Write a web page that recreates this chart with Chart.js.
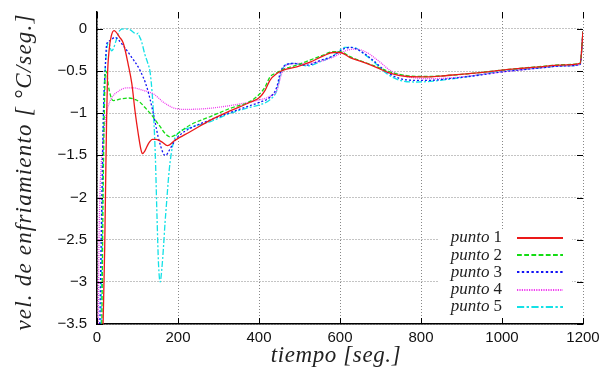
<!DOCTYPE html>
<html>
<head>
<meta charset="utf-8">
<script src="https://cdn.jsdelivr.net/npm/chart.js@4"></script>
<style>
  html, body { margin: 0; padding: 0; background: #fff; }
  #wrap { width: 612px; height: 373px; }
</style>
</head>
<body>
<div id="wrap"><canvas id="grafico" width="612" height="373"></canvas></div>
<script>
// tiempos (seg.) y velocidades de enfriamiento
const t1 = [15, 19, 22, 24, 26, 30, 35, 42, 56, 65, 77, 86, 94, 102, 108, 112, 118, 127, 137, 146, 160, 174, 193, 230, 279, 330, 378, 402, 415, 427, 444, 460, 493, 526, 559, 583, 600, 625, 657, 691, 723, 765, 814, 847, 896, 946, 999, 1044, 1094, 1143, 1193, 1200];
const v1 = [-3.5, -2.6, -1.6, -1.0, -0.55, -0.25, -0.09, -0.02, -0.1, -0.17, -0.42, -0.65, -0.98, -1.25, -1.42, -1.48, -1.45, -1.36, -1.31, -1.31, -1.34, -1.385, -1.32, -1.22, -1.085, -0.97, -0.87, -0.81, -0.73, -0.61, -0.53, -0.49, -0.45, -0.395, -0.32, -0.28, -0.28, -0.34, -0.395, -0.46, -0.525, -0.565, -0.57, -0.56, -0.54, -0.52, -0.49, -0.47, -0.45, -0.43, -0.41, -0.03];

const t2 = [12, 15, 18, 21, 24, 28, 34, 40, 60, 78, 95, 106, 118, 131, 144, 156, 168, 180, 193, 230, 280, 330, 378, 402, 415, 427, 444, 460, 493, 526, 559, 583, 600, 625, 657, 691, 723, 765, 814, 860, 900, 950, 1000, 1050, 1100, 1150, 1193, 1200];
const v2 = [-3.5, -2.0, -1.0, -0.5, -0.52, -0.67, -0.8, -0.85, -0.83, -0.82, -0.84, -0.87, -0.93, -1.0, -1.08, -1.16, -1.24, -1.28, -1.26, -1.14, -1.04, -0.94, -0.86, -0.77, -0.69, -0.57, -0.52, -0.48, -0.43, -0.37, -0.31, -0.27, -0.27, -0.33, -0.39, -0.45, -0.51, -0.555, -0.565, -0.555, -0.54, -0.515, -0.49, -0.465, -0.445, -0.425, -0.405, -0.03];

const t3 = [7, 12, 16, 20, 24, 32, 44, 55, 65, 86, 106, 123, 139, 151, 164, 170, 176, 188, 200, 230, 280, 330, 378, 402, 427, 444, 452, 460, 485, 518, 551, 583, 608, 625, 649, 682, 715, 748, 789, 823, 870, 900, 950, 1000, 1050, 1100, 1150, 1193, 1200];
const v3 = [-3.5, -2.0, -1.0, -0.5, -0.18, -0.14, -0.1, -0.14, -0.2, -0.34, -0.49, -0.69, -1.0, -1.28, -1.48, -1.5, -1.46, -1.36, -1.28, -1.18, -1.08, -0.99, -0.91, -0.87, -0.81, -0.69, -0.53, -0.45, -0.41, -0.43, -0.375, -0.32, -0.24, -0.22, -0.26, -0.375, -0.51, -0.59, -0.61, -0.61, -0.59, -0.575, -0.545, -0.51, -0.485, -0.46, -0.44, -0.42, -0.03];

const t4 = [3, 5, 8, 14, 20, 27, 36, 50, 73, 90, 114, 139, 164, 188, 213, 271, 328, 394, 427, 444, 456, 468, 501, 542, 583, 616, 641, 666, 699, 723, 765, 814, 860, 900, 950, 1000, 1050, 1100, 1150, 1193, 1200];
const v4 = [-3.5, -2.5, -1.85, -1.4, -1.1, -0.93, -0.82, -0.75, -0.7, -0.7, -0.73, -0.77, -0.87, -0.935, -0.955, -0.945, -0.91, -0.85, -0.8, -0.73, -0.53, -0.43, -0.41, -0.395, -0.335, -0.255, -0.24, -0.28, -0.395, -0.49, -0.565, -0.59, -0.585, -0.57, -0.54, -0.51, -0.485, -0.46, -0.44, -0.42, -0.03];

const t5 = [10, 13, 16, 20, 24, 28, 36, 40, 47, 56, 65, 81, 98, 102, 104, 110, 118, 125, 131, 136, 140, 144, 148, 152, 156, 160, 164, 168, 172, 176, 180, 188, 200, 230, 280, 330, 378, 402, 427, 444, 452, 464, 485, 518, 551, 583, 612, 633, 660, 690, 715, 748, 789, 830, 896, 950, 995, 1050, 1100, 1150, 1193, 1200];
const v5 = [-3.5, -2.2, -1.0, -0.5, -0.25, -0.16, -0.26, -0.24, -0.14, -0.02, 0.0, -0.01, -0.06, -0.05, -0.08, -0.15, -0.3, -0.4, -0.51, -0.75, -1.05, -1.5, -2.2, -2.8, -3.0, -2.85, -2.6, -2.3, -2.05, -1.8, -1.6, -1.36, -1.24, -1.17, -1.1, -1.0, -0.93, -0.9, -0.84, -0.73, -0.57, -0.43, -0.41, -0.44, -0.39, -0.32, -0.22, -0.22, -0.3, -0.42, -0.53, -0.61, -0.63, -0.62, -0.58, -0.54, -0.5, -0.48, -0.46, -0.44, -0.42, -0.03];

const etiquetas = ['1', '2', '3', '4', '5'];
const xTicks = [0, 200, 400, 600, 800, 1000, 1200];
const yTicks = [0, -0.5, -1, -1.5, -2, -2.5, -3, -3.5];

const colores = ['rgb(235,25,25)', 'rgb(20,220,20)', 'rgb(20,20,245)', 'rgb(240,60,240)', 'rgb(20,225,230)'];
const trazos = [[], [4, 2], [2, 2], [1, 1], [6, 2, 2, 2]];

function puntos(t, v) {
    return t.map((x, i) => ({ x: x, y: v[i] }));
}

const series = [[t1, v1], [t2, v2], [t3, v3], [t4, v4], [t5, v5]];

const datasets = series.map((s, i) => ({
    label: 'punto ' + etiquetas[i],
    data: puntos(s[0], s[1]),
    borderColor: colores[i],
    borderDash: trazos[i],
    borderWidth: 1.3,
    pointRadius: 0,
    fill: false,
    tension: 0.4,
    cubicInterpolationMode: 'monotone',
}));

// marcas de los ejes hacia dentro (estilo gnuplot), titulos y leyenda
const marcas = {
    id: 'marcas',
    afterDraw(chart) {
        const ctx = chart.ctx;
        const a = chart.chartArea;
        const sx = chart.scales.x, sy = chart.scales.y;
        ctx.save();
        ctx.strokeStyle = '#000';
        ctx.lineWidth = 1;
        xTicks.forEach(v => {
            const px = Math.round(sx.getPixelForValue(v)) + 0.5;
            ctx.beginPath();
            ctx.moveTo(px, a.bottom); ctx.lineTo(px, a.bottom - 6);
            ctx.moveTo(px, a.top); ctx.lineTo(px, a.top + 6);
            ctx.stroke();
        });
        yTicks.forEach(v => {
            const py = Math.round(sy.getPixelForValue(v)) + 0.5;
            ctx.beginPath();
            ctx.moveTo(a.left, py); ctx.lineTo(a.left + 6, py);
            ctx.moveTo(a.right, py); ctx.lineTo(a.right - 6, py);
            ctx.stroke();
        });

        // titulos de ejes
        ctx.fillStyle = '#222';
        ctx.textAlign = 'center';
        ctx.textBaseline = 'middle';
        ctx.font = 'italic 23px "Liberation Serif"';
        ctx.letterSpacing = '0.6px';
        ctx.fillText('tiempo [seg.]', 336, 356);
        ctx.letterSpacing = '1.2px';
        ctx.translate(25, 172);
        ctx.rotate(-Math.PI / 2);
        ctx.fillText('vel. de enfriamiento [ °C/seg.]', 0, 0);
        ctx.restore();

        // leyenda con fondo blanco
        ctx.save();
        ctx.fillStyle = '#fff';
        ctx.fillRect(438, 229, 134, 87);
        ctx.textBaseline = 'middle';
        chart.data.datasets.forEach((d, i) => {
            const y = 238 + i * 17.2;
            ctx.fillStyle = '#222';
            ctx.font = '17px "Liberation Serif"';
            ctx.textAlign = 'right';
            ctx.fillText(etiquetas[i], 502, y);
            const wn = ctx.measureText(etiquetas[i]).width;
            ctx.font = 'italic 17px "Liberation Serif"';
            ctx.fillText('punto', 502 - wn - 4, y);
            ctx.strokeStyle = colores[i];
            ctx.lineWidth = 2;
            ctx.setLineDash(trazos[i].map(n => n * 1.2));
            ctx.beginPath();
            ctx.moveTo(517, Math.round(y));
            ctx.lineTo(563, Math.round(y));
            ctx.stroke();
        });
        ctx.restore();
    }
};

const ctx = document.getElementById('grafico').getContext('2d');
window.chart = new Chart(ctx, {
    type: 'line',
    data: { datasets: datasets },
    options: {
        responsive: false,
        animation: false,
        layout: { padding: { top: 12, right: 29, left: 0, bottom: 0 } },
        plugins: {
            legend: { display: false },
            tooltip: { enabled: false },
        },
        scales: {
            x: {
                type: 'linear',
                min: 0,
                max: 1200,
                afterBuildTicks: s => { s.ticks = xTicks.map(v => ({ value: v })); },
                afterFit: s => { s.height = 49; s.paddingLeft = 0; s.paddingRight = 0; },
                ticks: {
                    color: '#111',
                    font: { family: '"Liberation Sans"', size: 15 },
                    padding: 5,
                    maxRotation: 0,
                    callback: v => String(v),
                },
                grid: { color: '#888', drawTicks: false, lineWidth: 1 },
                border: { display: true, color: '#000', width: 1.5, dash: [1, 2] },
            },
            y: {
                type: 'linear',
                min: -3.5,
                max: 0.2,
                afterBuildTicks: s => { s.ticks = yTicks.map(v => ({ value: v })); },
                afterFit: s => { s.width = 97; s.paddingTop = 0; s.paddingBottom = 0; },
                ticks: {
                    color: '#111',
                    font: { family: '"Liberation Sans"', size: 15 },
                    padding: 10,
                    callback: v => String(v).replace('-', '\u2212'),
                },
                grid: { color: '#888', drawTicks: false, lineWidth: 1 },
                border: { display: true, color: '#000', width: 1.5, dash: [1, 2] },
            },
        },
    },
    plugins: [marcas],
});
</script>
</body>
</html>
